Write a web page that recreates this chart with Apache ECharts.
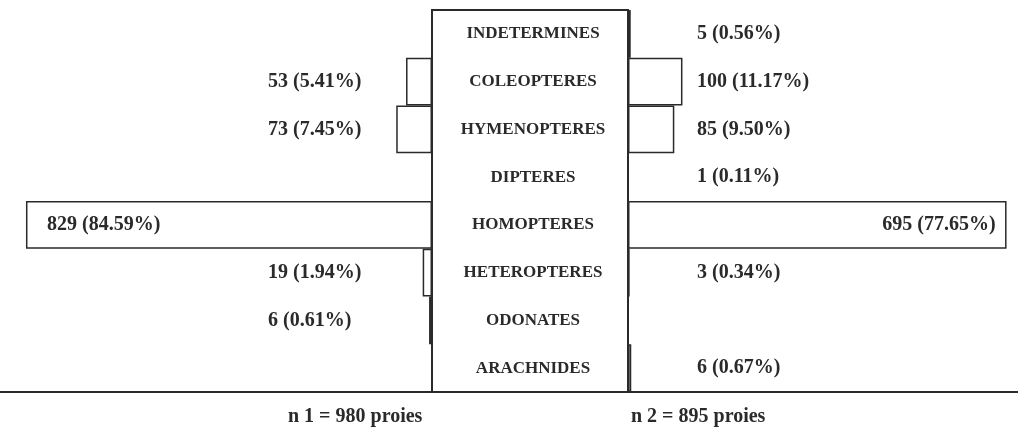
<!DOCTYPE html>
<html><head><meta charset="utf-8">
<script src="https://cdn.jsdelivr.net/npm/echarts@6/dist/echarts.min.js"></script>
<style>html,body{margin:0;padding:0;background:#fff}#c{width:1018px;height:436px}</style>
</head><body><div id="c"></div>
<script>
// ---- data ----
const categories = ['INDETERMINES','COLEOPTERES','HYMENOPTERES','DIPTERES','HOMOPTERES','HETEROPTERES','ODONATES','ARACHNIDES'];
const countsN1 = [null, 53, 73, null, 829, 19, 6, null];
const pctN1    = [null, 5.41, 7.45, null, 84.59, 1.94, 0.61, null];
const countsN2 = [5, 100, 85, 1, 695, 3, null, 6];
const pctN2    = [0.56, 11.17, 9.50, 0.11, 77.65, 0.34, null, 0.67];
const totals   = [980, 895];

// ---- styles ----
const FONT = "'Liberation Serif','Times New Roman',serif";
const INK = '#2a2a2a';
const valText = {fontFamily: FONT, fontWeight: 'bold', fontSize: 20, color: INK};
const fmt = (c, p) => c == null ? '' : c + ' (' + p.toFixed(2) + '%)';
const BIG = 50; // bars wider than this carry their label inside

function barData(counts, pct, pos, dist) {
  return pct.map((v, i) => {
    if (v == null) return '-';
    if (v > BIG) return {value: v, label: Object.assign({show: true, position: pos, distance: dist,
      formatter: () => fmt(counts[i], pct[i])}, valText)};
    return v;
  });
}

const chart = echarts.init(document.getElementById('c'), null, {renderer: 'canvas'});
const hiddenAxisBits = {axisTick: {show: false}, splitLine: {show: false}};
const baseLine = {show: true, lineStyle: {color: INK, width: 2}};

chart.setOption({
  backgroundColor: '#fff',
  animation: false,
  title: [
    {text: 'n 1 = ' + totals[0] + ' proies', left: 288, top: 407, padding: 0,
     textStyle: {fontFamily: FONT, fontWeight: 'bold', fontSize: 20, color: INK}},
    {text: 'n 2 = ' + totals[1] + ' proies', left: 631, top: 407, padding: 0,
     textStyle: {fontFamily: FONT, fontWeight: 'bold', fontSize: 20, color: INK}}
  ],
  grid: [
    {left: 0, width: 432, top: 10, height: 382},
    {left: 628, width: 390, top: 10, height: 382},
    {left: 432, width: 196, top: 10, height: 382, show: true, borderColor: INK, borderWidth: 2, backgroundColor: 'transparent', z: 5}
  ],
  xAxis: [
    Object.assign({gridIndex: 0, type: 'value', inverse: true, min: 0, max: 90, axisLine: baseLine, axisLabel: {show: false}}, hiddenAxisBits),
    Object.assign({gridIndex: 1, type: 'value', min: 0, max: 80, axisLine: baseLine, axisLabel: {show: false}}, hiddenAxisBits),
    Object.assign({gridIndex: 2, type: 'value', min: 0, max: 1, show: false}, hiddenAxisBits)
  ],
  yAxis: [
    Object.assign({gridIndex: 0, type: 'category', data: categories, inverse: true, position: 'right',
      axisLine: {show: false},
      axisLabel: Object.assign({inside: true, margin: 164, align: 'left',
        formatter: (v, i) => (pctN1[i] != null && pctN1[i] <= BIG) ? fmt(countsN1[i], pctN1[i]) : ''}, valText)}, hiddenAxisBits),
    Object.assign({gridIndex: 1, type: 'category', data: categories, inverse: true, position: 'left',
      axisLine: {show: false},
      axisLabel: Object.assign({inside: true, margin: 69, align: 'left',
        formatter: (v, i) => (pctN2[i] != null && pctN2[i] <= BIG) ? fmt(countsN2[i], pctN2[i]) : ''}, valText)}, hiddenAxisBits),
    Object.assign({gridIndex: 2, type: 'category', data: categories, inverse: true, position: 'left',
      axisLine: {show: false},
      axisLabel: {inside: true, margin: 101, align: 'center',
        fontFamily: FONT, fontWeight: 'bold', fontSize: 17, color: INK}}, hiddenAxisBits)
  ],
  series: [
    {type: 'bar', xAxisIndex: 0, yAxisIndex: 0, barWidth: '100%',
     itemStyle: {color: '#fff', borderColor: INK, borderWidth: 1.5},
     data: barData(countsN1, pctN1, 'insideLeft', 21)},
    {type: 'bar', xAxisIndex: 1, yAxisIndex: 1, barWidth: '100%',
     itemStyle: {color: '#fff', borderColor: INK, borderWidth: 1.5},
     data: barData(countsN2, pctN2, 'insideRight', 11)}
  ]
});
</script>
</body></html>
